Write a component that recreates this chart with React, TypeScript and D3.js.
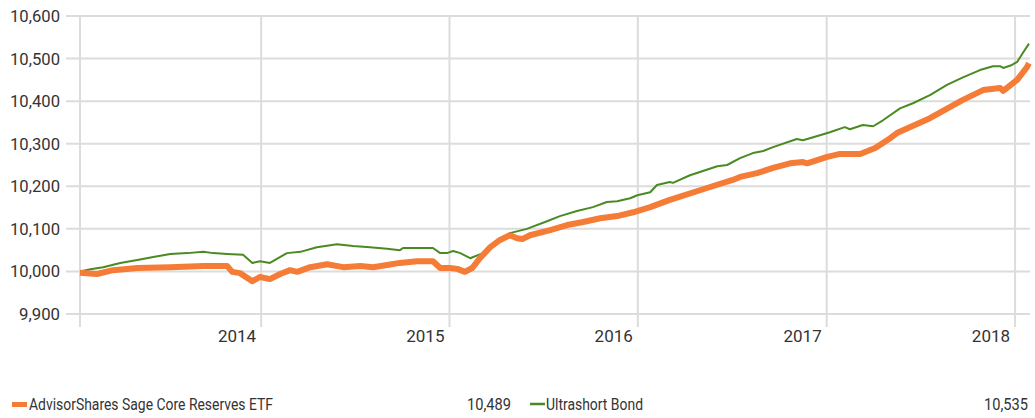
import React from "react";
import * as d3 from "d3";

// growth of 10,000
const fundDates = [
  "2013-01-15", "2013-02-17", "2013-03-20", "2013-05-06", "2013-07-09", "2013-09-11", "2013-10-27",
  "2013-11-06", "2013-11-21", "2013-12-15", "2013-12-30", "2014-01-18", "2014-02-07", "2014-02-26",
  "2014-03-12", "2014-04-06", "2014-05-09", "2014-06-09", "2014-07-12", "2014-08-06", "2014-09-02",
  "2014-09-27", "2014-10-30", "2014-11-30", "2014-12-14", "2015-01-02", "2015-01-16", "2015-01-31",
  "2015-02-14", "2015-03-01", "2015-03-21", "2015-04-09", "2015-04-28", "2015-05-12", "2015-05-22",
  "2015-06-06", "2015-07-15", "2015-08-17", "2015-09-17", "2015-10-20", "2015-11-22", "2015-12-23",
  "2016-01-25", "2016-03-03", "2016-05-14", "2016-07-03", "2016-07-17", "2016-08-19", "2016-09-19",
  "2016-10-22", "2016-11-16", "2016-11-24", "2017-01-02", "2017-01-27", "2017-03-07", "2017-04-05",
  "2017-05-04", "2017-05-17", "2017-07-20", "2017-09-22", "2017-10-31", "2017-12-03", "2017-12-09",
  "2018-01-05", "2018-01-24", "2018-01-28",
];
const fundValues = [
  9997, 9994, 10003, 10008, 10010, 10013, 10013,
  9999, 9996, 9977, 9987, 9982, 9994, 10003,
  9999, 10010, 10017, 10010, 10013, 10010, 10015,
  10020, 10024, 10024, 10008, 10008, 10006, 9999,
  10008, 10031, 10057, 10074, 10085, 10078, 10076,
  10085, 10097, 10109, 10116, 10125, 10130, 10139,
  10151, 10168, 10196, 10215, 10222, 10231, 10243,
  10254, 10257, 10254, 10269, 10276, 10276, 10290,
  10313, 10325, 10360, 10403, 10426, 10431, 10424,
  10450, 10480, 10489,
];

const benchDates = [
  "2013-01-15", "2013-02-04", "2013-03-01", "2013-04-03", "2013-05-06", "2013-06-06", "2013-07-09",
  "2013-08-11", "2013-09-11", "2013-09-30", "2013-10-27", "2013-11-27", "2013-12-15", "2013-12-30",
  "2014-01-18", "2014-02-20", "2014-03-18", "2014-04-19", "2014-05-28", "2014-06-28", "2014-07-31",
  "2014-09-02", "2014-09-27", "2014-10-03", "2014-10-30", "2014-11-30", "2014-12-14", "2014-12-27",
  "2015-01-08", "2015-01-22", "2015-02-10", "2015-03-07", "2015-04-28", "2015-05-31", "2015-07-09",
  "2015-08-03", "2015-09-05", "2015-10-06", "2015-11-02", "2015-11-22", "2015-12-17", "2015-12-31",
  "2016-01-25", "2016-02-07", "2016-03-03", "2016-03-09", "2016-04-11", "2016-06-03", "2016-06-22",
  "2016-07-17", "2016-08-11", "2016-08-31", "2016-09-19", "2016-11-04", "2016-11-16", "2016-12-19",
  "2017-01-07", "2017-02-05", "2017-02-15", "2017-03-12", "2017-04-01", "2017-04-20", "2017-05-23",
  "2017-06-17", "2017-07-20", "2017-08-22", "2017-09-22", "2017-10-25", "2017-11-19", "2017-12-03",
  "2017-12-09", "2017-12-26", "2018-01-05", "2018-01-16", "2018-01-28",
];
const benchValues = [
  10000, 10005, 10010, 10020, 10027, 10034, 10041,
  10043, 10046, 10043, 10041, 10039, 10020, 10024,
  10020, 10043, 10046, 10057, 10064, 10060, 10057,
  10053, 10050, 10055, 10055, 10055, 10043, 10043,
  10048, 10043, 10031, 10043, 10090, 10100, 10118,
  10130, 10142, 10151, 10163, 10165, 10172, 10179,
  10186, 10203, 10210, 10208, 10226, 10247, 10250,
  10266, 10278, 10283, 10292, 10311, 10308, 10320,
  10327, 10339, 10334, 10344, 10341, 10355, 10383,
  10395, 10414, 10438, 10456, 10473, 10482, 10482,
  10478, 10485, 10492, 10513, 10535,
];

const yTicks = [9900, 10000, 10100, 10200, 10300, 10400, 10500, 10600];
const xTicks = ["2014-01-01", "2015-01-01", "2016-01-01", "2017-01-01", "2018-01-01"];

const fundName = "AdvisorShares Sage Core Reserves ETF";
const benchName = "Ultrashort Bond";

const W = 1035;
const H = 418;
const FONT = "Roboto, 'Liberation Sans', sans-serif";

export default function App() {
  const parse = d3.timeParse("%Y-%m-%d");
  const fund = fundDates.map((d, i) => ({ date: parse(d)!, value: fundValues[i] }));
  const bench = benchDates.map((d, i) => ({ date: parse(d)!, value: benchValues[i] }));

  const x = d3.scaleTime()
    .domain([parse("2013-01-15")!, parse("2018-01-28")!])
    .range([80, 1029]);
  const y = d3.scaleLinear().domain([9900, 10600]).range([314, 16]);

  const line = d3.line<{ date: Date; value: number }>()
    .x(d => x(d.date))
    .y(d => y(d.value));

  const grid = "#dcdcdc";
  const txt = "#333";
  const fmt = d3.format(",");

  return (
    <svg width={W} height={H} style={{ position: "absolute", left: 0, top: 0 }} fontFamily={FONT}>
      {yTicks.map(t => (
        <g key={t}>
          <line x1={66} x2={1030} y1={y(t)} y2={y(t)} stroke={grid} strokeWidth={2} />
          <text x={60} y={y(t)} dy="0.35em" textAnchor="end" fontSize={17} fill={txt}
            textLength={t < 10000 ? 41 : 50} lengthAdjust="spacingAndGlyphs">
            {fmt(t)}
          </text>
        </g>
      ))}
      <line x1={80} x2={80} y1={16} y2={327} stroke={grid} strokeWidth={2} />
      {xTicks.map(t => {
        const px = x(parse(t)!);
        return (
          <g key={t}>
            <line x1={px} x2={px} y1={16} y2={327} stroke={grid} strokeWidth={2} />
            <text x={px - 5} y={342} textAnchor="end" fontSize={17} fill={txt}>
              {t.slice(0, 4)}
            </text>
          </g>
        );
      })}
      <path d={line(bench)!} fill="none" stroke="#4b8a22" strokeWidth={2} strokeLinejoin="round" />
      <path d={line(fund)!} fill="none" stroke="#f57c37" strokeWidth={6} strokeLinejoin="round" />

      {/* legend */}
      <line x1={12} x2={27} y1={404.5} y2={404.5} stroke="#f57c37" strokeWidth={5} />
      <text x={29} y={410} fontSize={17} fill={txt} textLength={244} lengthAdjust="spacingAndGlyphs">
        {fundName}
      </text>
      <text x={511} y={410} textAnchor="end" fontSize={17} fill={txt} textLength={44} lengthAdjust="spacingAndGlyphs">
        {fmt(fundValues[fundValues.length - 1])}
      </text>
      <line x1={530} x2={545} y1={404} y2={404} stroke="#4b8a22" strokeWidth={2.5} />
      <text x={546} y={410} fontSize={17} fill={txt} textLength={97} lengthAdjust="spacingAndGlyphs">
        {benchName}
      </text>
      <text x={1028} y={410} textAnchor="end" fontSize={17} fill={txt} textLength={44} lengthAdjust="spacingAndGlyphs">
        {fmt(benchValues[benchValues.length - 1])}
      </text>
    </svg>
  );
}
